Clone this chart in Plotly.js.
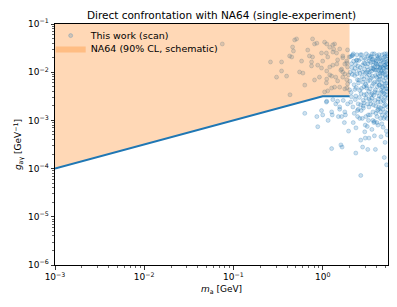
<!DOCTYPE html>
<html>
<head>
<meta charset="utf-8">
<script src="https://cdn.plot.ly/plotly-3.0.1.min.js"></script>
<style>html,body{margin:0;padding:0;background:#fff}#chart{width:397px;height:307px}</style>
</head>
<body>
<div id="chart"></div>
<script>
// Scan points (mass in GeV, coupling in GeV^-1)
var scan_mass = [
0.075,0.26,0.346,0.346,0.304,0.394,0.426,0.45,0.46,0.47,0.485,0.51,0.58,0.55,0.6,0.68,0.71,0.77,0.75,0.75,0.77,0.81,0.86,0.88,0.92,0.97,1.0,0.97,1.05,1.1,1.1,1.2,1.3,1.33,1.3,1.26,1.43,1.47,1.55,1.6,1.68,1.68,1.77,1.86,1.86,1.86,1.9,1.95,2.0,1.98,1.4,1.2,1.05,0.81,0.63,0.43,
1.11,1.36,1.55,1.3,1.68,1.14,1.86,1.44,1.2,1.63,1.9,1.11,1.77,
1.11,1.26,1.47,1.68,1.9,1.36,1.77,1.14,
1.11,1.47,1.55,1.26,1.77,1.28,1.63,
0.63,0.88,0.86,0.97,1.0,1.1,1.26,1.6,1.65,1.5,1.55,1.4,1.8,1.9,1.3,1.7,1.15,1.75,1.95,
2.05,2.1,2.15,2.2,2.25,2.3,2.35,2.4,2.45,2.5,2.55,2.6,2.65,2.7,2.75,2.8,2.85,2.9,2.95,3.0,3.05,3.1,3.15,3.2,3.25,3.3,3.35,3.4,3.45,3.5,3.55,3.6,3.65,3.7,3.75,3.8,3.85,3.9,3.95,4.0,4.05,4.1,4.15,4.2,4.25,4.3,4.35,4.4,4.45,4.5,4.55,4.6,4.65,4.7,4.75,4.8,4.85,4.9,4.95,5.0,5.05,5.1,5.15,5.2,5.25,5.3,5.35,
2.02,2.08,2.12,2.18,2.22,2.28,2.32,2.38,2.42,2.48,2.52,2.58,2.62,2.68,2.72,2.78,2.82,2.88,2.92,2.98,3.02,3.08,3.12,3.18,3.22,3.28,3.32,3.38,3.42,3.48,3.52,3.58,3.62,3.68,3.72,3.78,3.82,3.88,3.92,3.98,4.02,4.08,4.12,4.18,4.22,4.28,4.32,4.38,4.42,4.48,4.52,4.58,4.62,4.68,4.72,4.78,4.82,4.88,4.92,4.98,5.02,5.08,5.12,5.18,5.22,5.28,5.32,5.38,
2.03,2.13,2.23,2.33,2.43,2.53,2.63,2.73,2.83,2.93,3.03,3.13,3.23,3.33,3.43,3.53,3.63,3.73,3.83,3.93,4.03,4.13,4.23,4.33,4.43,4.53,4.63,4.73,4.83,4.93,5.03,5.13,5.23,5.33,
2.06,2.26,2.46,2.66,2.86,3.06,3.26,3.46,3.66,3.86,4.06,4.26,4.46,4.66,4.86,5.06,5.26,3.16,3.56,4.16,4.76,5.16,2.36,2.96,
2.35,2.67,2.67,2.8,3.2,3.9,3.0,3.3,3.8,4.5,5.0,5.2,4.9,5.3,
2.17,2.4,2.9,3.4,3.7,4.2,4.4,2.55,3.1,3.6,4.1,4.7,5.1,
2.1,2.3,2.5,2.7,2.9,3.1,3.3,3.5,3.7,3.9,4.1,4.3,4.5,4.7,4.9,5.1,5.3,
2.2,2.6,3.0,3.4,3.8,4.2,4.6,5.0,5.35,2.45,2.85,3.25,3.65,4.05,4.45,4.85,5.25
];
var scan_g = [
0.0385,0.0163,0.0163,0.0106,0.0079,0.0083,0.0217,0.0207,0.0333,0.0275,0.0466,0.049,0.017,0.0101,0.0096,0.0288,0.0217,0.0207,0.0163,0.0135,0.049,0.0385,0.040,0.014,0.0079,0.025,0.017,0.0122,0.042,0.025,0.006,0.033,0.037,0.030,0.014,0.0047,0.025,0.018,0.0049,0.011,0.020,0.010,0.0148,0.0155,0.007,0.0047,0.029,0.0088,0.0043,0.0207,0.0079,0.0088,0.0039,0.0069,0.0054,0.0034,
0.0385,0.0385,0.0303,0.0262,0.0217,0.0207,0.017,0.0148,0.0128,0.0116,0.0128,0.0106,0.0092,
0.0072,0.0083,0.0066,0.0079,0.0057,0.0049,0.0045,0.0041,
0.0025,0.0025,0.0019,0.0015,0.0015,0.0013,0.0012,
0.0014,0.00074,0.0012,0.0016,0.0013,0.0024,0.00026,0.00031,0.00028,0.0012,0.0017,0.0022,0.0013,0.0022,0.0027,0.0026,0.0010,0.0009,0.0006,
0.021,0.015,0.009,0.024,0.0055,0.012,0.0032,0.018,0.007,0.0022,0.011,0.0042,0.023,0.0016,0.008,0.014,0.0026,0.005,0.020,0.0095,0.0012,0.0035,0.013,0.0065,0.022,0.0019,0.010,0.0045,0.016,0.0075,0.0029,0.024,0.012,0.0058,0.0009,0.018,0.0039,0.0085,0.0014,0.011,0.022,0.005,0.0024,0.015,0.007,0.0032,0.019,0.0095,0.0011,0.0042,0.013,0.006,0.023,0.0017,0.008,0.016,0.0036,0.0105,0.0052,0.021,0.0021,0.0075,0.013,0.004,0.009,0.017,0.0029,
0.0065,0.0038,0.0125,0.0019,0.017,0.0085,0.0027,0.0048,0.023,0.0135,0.006,0.003,0.0095,0.019,0.0046,0.0011,0.010,0.0072,0.0034,0.015,0.0056,0.024,0.008,0.0022,0.011,0.004,0.017,0.0068,0.0026,0.012,0.021,0.0052,0.0082,0.014,0.0033,0.024,0.0062,0.011,0.0020,0.017,0.0078,0.0037,0.013,0.009,0.0028,0.023,0.0055,0.012,0.0072,0.0015,0.017,0.0038,0.0098,0.005,0.0125,0.0026,0.020,0.0066,0.014,0.0031,0.0088,0.016,0.0046,0.011,0.024,0.006,0.0125,0.008,
0.010,0.022,0.0105,0.0145,0.0092,0.0175,0.0125,0.023,0.0062,0.0115,0.0185,0.010,0.015,0.0088,0.021,0.0105,0.0185,0.0115,0.013,0.0155,0.0145,0.019,0.011,0.0082,0.0145,0.0105,0.018,0.0095,0.012,0.024,0.014,0.019,0.015,0.022,
0.0024,0.0014,0.0012,0.0021,0.0018,0.0029,0.0010,0.0022,0.0015,0.0026,0.0012,0.0019,0.0024,0.0013,0.0020,0.0015,0.0011,0.00075,0.00065,0.0008,0.00072,0.0006,0.0007,0.00058,
0.00021,0.000072,0.00039,0.00028,0.00025,0.00025,0.00043,0.00043,0.00048,0.00046,0.00035,0.00012,0.00017,0.0005,
0.0225,0.0175,0.0155,0.0195,0.0165,0.0205,0.0125,0.0068,0.0052,0.0036,0.0062,0.0048,0.0058,
0.0031,0.0044,0.0017,0.0036,0.0023,0.0047,0.0028,0.0034,0.0021,0.0043,0.0016,0.0053,0.0030,0.0040,0.0025,0.0034,0.0045,
0.0009,0.0011,0.0008,0.0013,0.00095,0.0017,0.00085,0.0012,0.0019,0.0016,0.0020,0.0013,0.0010,0.0009,0.0018,0.0011,0.0014
];

// NA64 schematic exclusion (90% CL)
var na64_mass  = [0.001, 1.0, 2.0];
var na64_lower = [1e-4, 3.16e-3, 3.16e-3];
var na64_upper = 0.1;

// Axis ticks
var x_major = [1e-3, 1e-2, 1e-1, 1];
var x_major_text = ['10<sup>−3</sup>','10<sup>−2</sup>','10<sup>−1</sup>','10<sup>0</sup>'];
var y_major = [1e-6, 1e-5, 1e-4, 1e-3, 1e-2, 1e-1];
var y_major_text = ['10<sup>−6</sup>','10<sup>−5</sup>','10<sup>−4</sup>','10<sup>−3</sup>','10<sup>−2</sup>','10<sup>−1</sup>'];
var x_minor = [], y_minor = [];
[1e-3,1e-2,1e-1,1].forEach(function(d){ for (var k=2;k<=9;k++) x_minor.push(k*d); });
[1e-6,1e-5,1e-4,1e-3,1e-2].forEach(function(d){ for (var k=2;k<=9;k++) y_minor.push(k*d); });

// Build the fill polygon from the NA64 arrays
var polyX = na64_mass.slice(), polyY = na64_lower.slice();
polyX.push(na64_mass[na64_mass.length-1]); polyY.push(na64_upper);
polyX.push(na64_mass[0]); polyY.push(na64_upper);

var C0 = '31,119,180';
var traces = [
  {type:'scatter', mode:'markers', x:scan_mass, y:scan_g, name:'This work (scan)', legend:'legend',
   marker:{size:4, color:'rgba('+C0+',0.22)', line:{width:0.7, color:'rgba('+C0+',0.35)'}},
   hoverinfo:'skip'},
  {type:'scatter', mode:'lines', x:polyX, y:polyY, fill:'toself', legend:'legend2',
   fillcolor:'rgba(255,127,14,0.3)', line:{width:0, color:'rgba(255,127,14,0)'},
   name:'NA64 (90% CL, schematic)', hoverinfo:'skip'},
  {type:'scatter', mode:'lines', x:na64_mass, y:na64_lower, showlegend:false,
   line:{color:'rgb('+C0+')', width:2}, hoverinfo:'skip'}
];

var fontFam = 'DejaVu Sans, sans-serif';
var legBase = {xanchor:'left', yanchor:'top', bgcolor:'rgba(0,0,0,0)', font:{family:fontFam, size:9.5}, tracegroupgap:0};
var layout = {
  width:397, height:307,
  margin:{l:55, r:9, t:24, b:42},
  paper_bgcolor:'#fff', plot_bgcolor:'#fff',
  font:{family:fontFam, size:9, color:'#000'},
  title:{text:'Direct confrontation with NA64 (single-experiment)', font:{family:fontFam, size:10.5, color:'#000'},
         x:0.5, xref:'paper', xanchor:'center', y:1, yref:'paper', yanchor:'bottom', pad:{b:5}},
  showlegend:true,
  legend:Object.assign({}, legBase, {x:-0.013, y:1.012}),
  legend2:Object.assign({}, legBase, {x:-0.013, y:0.958}),
  xaxis:{type:'log', range:[-3, 0.732], showgrid:false, zeroline:false,
         showline:true, mirror:true, linecolor:'#000', linewidth:1,
         ticks:'outside', ticklen:3.5, tickwidth:0.8, tickcolor:'#000',
         tickmode:'array', tickvals:x_major, ticktext:x_major_text,
         tickfont:{family:fontFam, size:9},
         minor:{tickmode:'array', tickvals:x_minor, ticks:'outside', ticklen:2, tickwidth:0.6, tickcolor:'#000', showgrid:false},
         title:{text:'<i>m</i><sub>a</sub> [GeV]', font:{family:fontFam, size:9}, standoff:4}},
  yaxis:{type:'log', range:[-6, -1], showgrid:false, zeroline:false,
         showline:true, mirror:true, linecolor:'#000', linewidth:1,
         ticks:'outside', ticklen:3.5, tickwidth:0.8, tickcolor:'#000',
         tickmode:'array', tickvals:y_major, ticktext:y_major_text,
         tickfont:{family:fontFam, size:9},
         minor:{tickmode:'array', tickvals:y_minor, ticks:'outside', ticklen:2, tickwidth:0.6, tickcolor:'#000', showgrid:false},
         title:{text:'<i>g</i><sub>aγ</sub> [GeV<sup>−1</sup>]', font:{family:fontFam, size:9}, standoff:4}}
};

Plotly.newPlot('chart', traces, layout, {staticPlot:true, displayModeBar:false});
</script>
</body>
</html>
